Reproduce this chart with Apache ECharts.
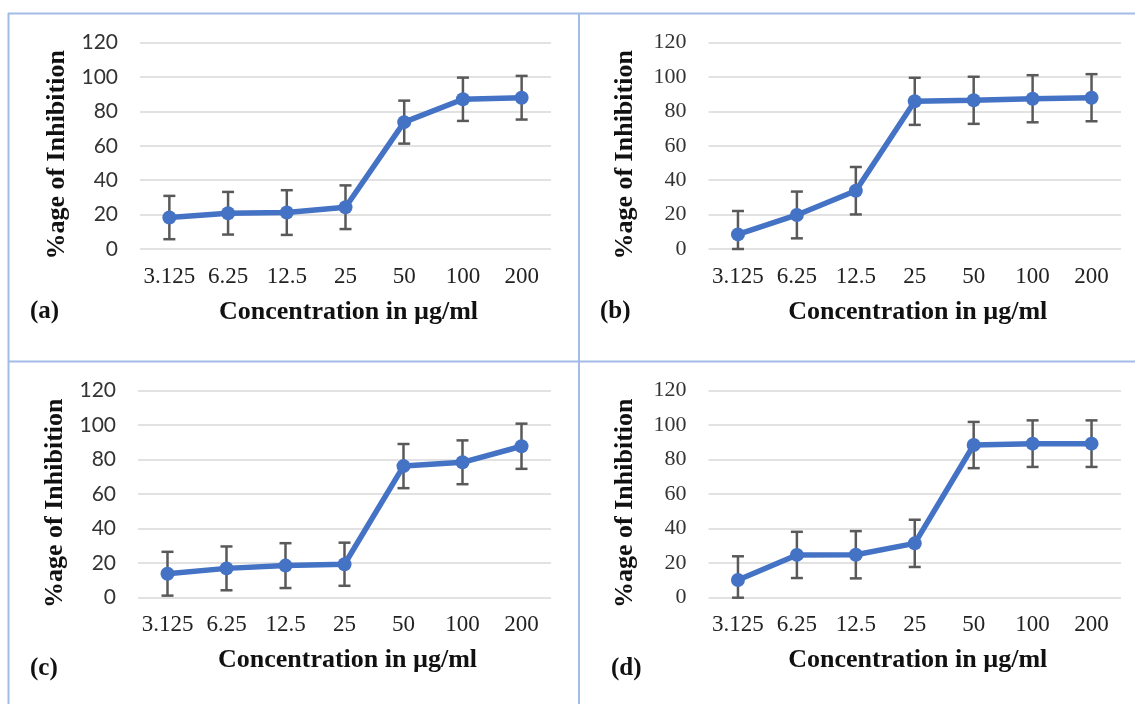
<!DOCTYPE html>
<html>
<head>
<meta charset="utf-8">
<script src="https://cdn.jsdelivr.net/npm/echarts@6/dist/echarts.min.js"></script>
<style>
html,body{margin:0;padding:0;background:#fff;}
#chart{width:1135px;height:704px;}
</style>
</head>
<body>
<div id="chart"></div>
<script>
// ---- data ----
const concentrations = ['3.125', '6.25', '12.5', '25', '50', '100', '200'];
const yTicks = [0, 20, 40, 60, 80, 100, 120];

const inhibitionA = [18.3, 20.8, 21.2, 24.3, 73.8, 87.1, 88.0];
const errorA      = [12.6, 12.4, 13.0, 12.7, 12.5, 12.6, 12.7];
const inhibitionB = [8.5, 19.8, 33.9, 85.9, 86.5, 87.4, 88.0];
const errorB      = [13.6, 13.6, 13.8, 13.7, 13.7, 13.7, 13.7];
const inhibitionC = [13.9, 17.0, 18.6, 19.4, 76.3, 78.5, 87.8];
const errorC      = [12.7, 12.7, 13.0, 12.5, 12.8, 12.7, 13.1];
const inhibitionD = [10.3, 24.8, 24.9, 31.5, 88.5, 89.3, 89.3];
const errorD      = [13.7, 13.4, 13.7, 13.7, 13.4, 13.5, 13.5];

const panelLabels = ['(a)', '(b)', '(c)', '(d)'];
const xTitle = 'Concentration in µg/ml';
const yTitle = '%age of Inhibition';

// ---- layout/styling ----
const panels = [
  {vals: inhibitionA, errs: errorA, left: 140, right: 551, top: 42.7, bottom: 249, yFont: 'Lato', ySize: 21, lab: {x: 30, y: 313}},
  {vals: inhibitionB, errs: errorB, left: 708.5, right: 1121, top: 42.7, bottom: 249, yFont: 'Liberation Serif', ySize: 22, lab: {x: 600, y: 313}},
  {vals: inhibitionC, errs: errorC, left: 138, right: 551, top: 390.7, bottom: 597.7, yFont: 'Lato', ySize: 21, lab: {x: 30, y: 670}},
  {vals: inhibitionD, errs: errorD, left: 708.5, right: 1121, top: 390.7, bottom: 597.7, yFont: 'Liberation Serif', ySize: 22, lab: {x: 611, y: 670}}
];

const W = 1135, H = 704;
const lineBlue = '#4472C4';
const errColor = '#595959';
const borderColor = '#a3bce6';

const grid = [], xAxis = [], yAxis = [], series = [], graphic = [];

panels.forEach((p, i) => {
  grid.push({left: p.left, top: p.top, width: p.right - p.left, height: p.bottom - p.top, containLabel: false});
  xAxis.push({
    type: 'category', gridIndex: i, data: concentrations, boundaryGap: true,
    axisLine: {show: false}, axisTick: {show: false},
    axisLabel: {interval: 0, margin: 16, fontFamily: 'Liberation Serif', fontSize: 23, color: '#222'},
    name: xTitle, nameLocation: 'middle', nameGap: 50,
    nameTextStyle: {fontFamily: 'Liberation Serif', fontWeight: 'bold', fontSize: 26, color: '#111', padding: [0, 0, 0, 6]}
  });
  yAxis.push({
    type: 'value', gridIndex: i, min: yTicks[0], max: yTicks[yTicks.length - 1], interval: yTicks[1] - yTicks[0],
    axisLine: {show: false}, axisTick: {show: false},
    axisLabel: {margin: 22, fontFamily: p.yFont, fontSize: p.ySize, color: '#333'},
    splitLine: {show: true, lineStyle: {color: '#d9d9d9', width: 1.5}},
    name: yTitle, nameLocation: 'middle', nameGap: 70, nameRotate: 90,
    nameTextStyle: {fontFamily: 'Liberation Serif', fontWeight: 'bold', fontSize: 26, color: '#111', padding: [0, 18, 0, 0]}
  });
  // error bars
  series.push({
    type: 'custom', xAxisIndex: i, yAxisIndex: i, z: 2, silent: true,
    data: p.vals.map((v, k) => [k, Math.max(0, v - p.errs[k]), v + p.errs[k]]),
    renderItem: function (params, api) {
      const lo = api.coord([api.value(0), api.value(1)]);
      const hi = api.coord([api.value(0), api.value(2)]);
      const cap = 6;
      const st = {stroke: errColor, lineWidth: 2.5};
      return {type: 'group', children: [
        {type: 'line', shape: {x1: lo[0], y1: lo[1], x2: hi[0], y2: hi[1]}, style: st},
        {type: 'line', shape: {x1: hi[0] - cap, y1: hi[1], x2: hi[0] + cap, y2: hi[1]}, style: st},
        {type: 'line', shape: {x1: lo[0] - cap, y1: lo[1], x2: lo[0] + cap, y2: lo[1]}, style: st}
      ]};
    }
  });
  series.push({
    type: 'line', xAxisIndex: i, yAxisIndex: i, z: 3, data: p.vals,
    symbol: 'circle', symbolSize: 14, showAllSymbol: true,
    lineStyle: {color: lineBlue, width: 5.5},
    itemStyle: {color: lineBlue}
  });
  graphic.push({
    type: 'text', left: p.lab.x, top: p.lab.y - 14,
    style: {text: panelLabels[i], font: 'bold 25px "Liberation Serif"', fill: '#111'}
  });
});

// panel borders
const bw = 2;
[[8, 13.5, W, 13.5], [8, 361.5, W, 361.5], [8.5, 13, 8.5, H], [579, 13, 579, H]].forEach(l => {
  graphic.push({type: 'line', shape: {x1: l[0], y1: l[1], x2: l[2], y2: l[3]}, style: {stroke: borderColor, lineWidth: bw}, z: 10});
});

const chart = echarts.init(document.getElementById('chart'), null, {renderer: 'canvas', width: W, height: H});
chart.setOption({
  animation: false,
  backgroundColor: '#ffffff',
  grid, xAxis, yAxis, series, graphic
});
</script>
</body>
</html>
